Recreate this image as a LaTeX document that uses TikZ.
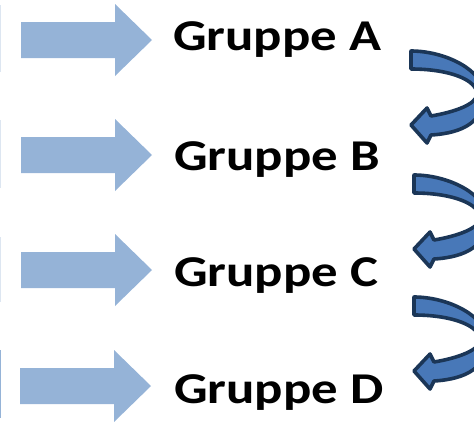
\documentclass[tikz,border=0pt]{standalone}
\usepackage{fontspec}
\usepackage{graphicx}
\setmainfont{Carlito}
\definecolor{paleblue}{HTML}{95B3D7}
\definecolor{edgeblue}{HTML}{DDE6F1}
\definecolor{bandblue}{HTML}{4878B8}
\definecolor{navy}{HTML}{1B3657}
\newcommand{\widename}[1]{\scalebox{1.2}[1]{#1}}
\tikzset{
  flatarrow/.style={fill=paleblue, draw=none},
  bentarrow/.style={fill=bandblue, draw=navy, line width=3.6pt, line join=round},
  grouplabel/.style={font=\bfseries\fontsize{44}{46}\selectfont, anchor=base west, inner sep=0pt},
  edgemark/.style={line width=1pt},
  flat arrow/.pic={
    \fill[flatarrow] (21,-18) -- (115,-18) -- (115,-36) -- (152,0)
      -- (115,36) -- (115,18) -- (21,18) -- cycle;
  },
  bent arrow/.pic={
    \draw[bentarrow] (411,51)
      .. controls (445,51) and (484,70) .. (484,95)
      .. controls (484,121) and (464,133) .. (431,135)
      -- (427,143) -- (411,125) -- (427,108) -- (431,116)
      .. controls (455,112) and (477,104) .. (477,94)
      .. controls (477,80) and (450,69) .. (411,69)
      -- cycle;
  }
}
\begin{document}
\begin{tikzpicture}[x=1pt, y=-1pt]
  \useasboundingbox (0,0) rectangle (474,421);
  \clip (0,0) rectangle (474,421);

  % thin edges of the panels at the left border
  \draw[edgemark, edgeblue] (0.5,5) -- (0.5,72);
  \draw[edgemark, edgeblue] (0.5,120) -- (0.5,188);
  \draw[edgemark, edgeblue] (0.5,237) -- (0.5,302);
  \draw[edgemark, paleblue] (0.5,350) -- (0.5,418);

  % block arrows pointing at the groups
  \pic at (0,40) {flat arrow};
  \pic at (0,155) {flat arrow};
  \pic at (0,270) {flat arrow};
  \pic at (-1,386) {flat arrow};

  % group names
  \node[grouplabel] (ga) at (173,50) {\widename{Gruppe A}};
  \node[grouplabel] (gb) at (174,170) {\widename{Gruppe B}};
  \node[grouplabel] (gc) at (174,286) {\widename{Gruppe C}};
  \node[grouplabel] (gd) at (174,403) {\widename{Gruppe D}};

  % curved arrows from one group to the next
  \pic at (0,0) {bent arrow};
  \pic at (3,124) {bent arrow};
  \pic at (3,246) {bent arrow};
\end{tikzpicture}
\end{document}
